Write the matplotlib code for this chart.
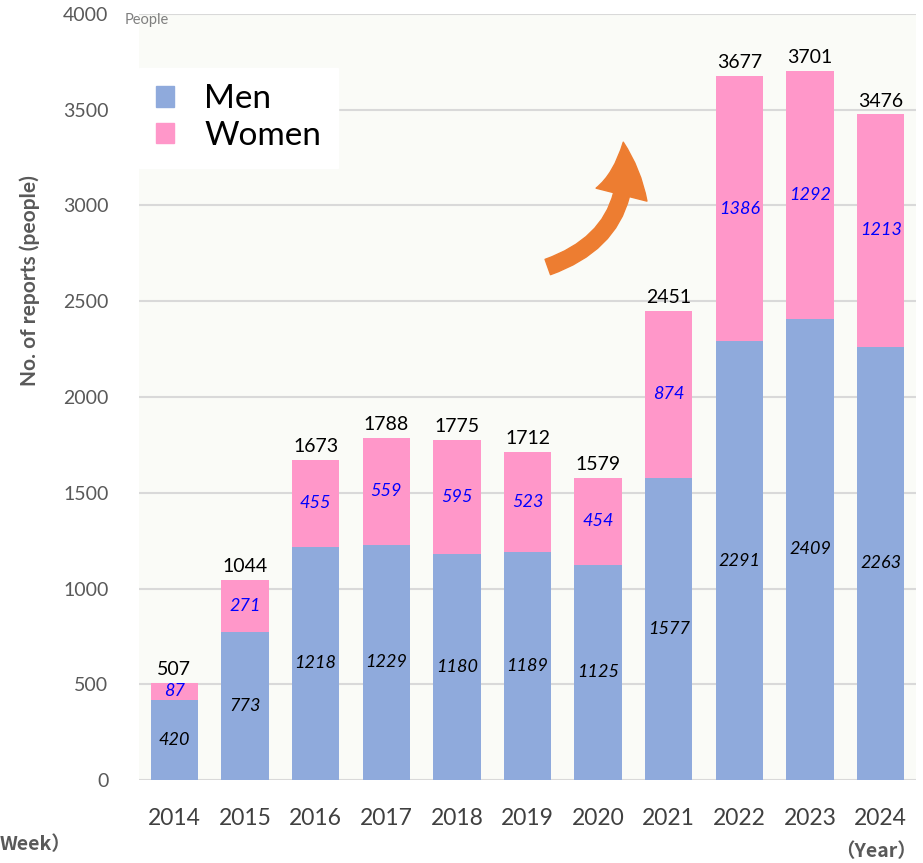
import matplotlib.pyplot as plt
import matplotlib.patches as mpatches
from matplotlib.patches import FancyArrowPatch
import numpy as np

# data
years = ['2014', '2015', '2016', '2017', '2018', '2019', '2020', '2021', '2022', '2023', '2024']
men = [420, 773, 1218, 1229, 1180, 1189, 1125, 1577, 2291, 2409, 2263]
women = [87, 271, 455, 559, 595, 523, 454, 874, 1386, 1292, 1213]
totals = [507, 1044, 1673, 1788, 1775, 1712, 1579, 2451, 3677, 3701, 3476]

men_color = '#8FAADC'
women_color = '#FF97C9'
gray = '#595959'

plt.rcParams['font.family'] = ['Lato', 'DejaVu Sans']

W, H = 923, 863
fig = plt.figure(figsize=(W / 100, H / 100), dpi=100, facecolor='white')
ax = fig.add_axes([139 / W, (H - 780) / H, (916 - 139) / W, 766 / H])
ax.set_facecolor('#FAFBF7')

x = np.arange(len(years))
ax.bar(x, men, width=0.67, color=men_color, zorder=2)
ax.bar(x, women, width=0.67, bottom=men, color=women_color, zorder=2)

# segment labels
for i in range(len(years)):
    ax.text(x[i], men[i] / 2, str(men[i]), ha='center', va='center',
            fontsize=13, style='italic', color='black', zorder=3)
    ax.text(x[i], men[i] + women[i] / 2, str(women[i]), ha='center', va='center',
            fontsize=13, style='italic', color='#0000FF', zorder=3)
    ax.text(x[i], totals[i] + 25, str(totals[i]), ha='center', va='bottom',
            fontsize=14, color='black', zorder=3)

ax.set_xlim(-0.5, 10.5)
ax.set_ylim(0, 4000)
ax.set_yticks(np.arange(0, 4001, 500))
ax.set_xticks(x)
ax.set_xticklabels(years, fontsize=16.5, color='#404040')
ax.tick_params(axis='y', labelsize=14, labelcolor=gray, length=0, pad=22)
ax.tick_params(axis='x', length=0, pad=20)
ax.grid(axis='y', color='#D9D9D9', linewidth=1.5, zorder=0)
for s in ax.spines.values():
    s.set_visible(False)

ax.set_ylabel('No. of reports (people)', fontsize=15, fontweight='bold', color=gray)
ax.yaxis.set_label_coords(-0.128, 0.652)

# legend
men_patch = mpatches.Patch(color=men_color, label='Men')
women_patch = mpatches.Patch(color=women_color, label='Women')
leg = ax.legend(handles=[men_patch, women_patch], loc='upper left',
                bbox_to_anchor=(0.0, 0.93), fontsize=24, frameon=True,
                fancybox=False, edgecolor='white', facecolor='white', framealpha=1,
                handlelength=0.55, handleheight=0.55, handletextpad=0.9,
                labelspacing=0.2, borderpad=0.5, borderaxespad=0.0)
leg.set_zorder(5)

# curved growth arrow
arrow = FancyArrowPatch((5.25, 2674), (6.35, 3345),
                        connectionstyle='arc3,rad=0.42',
                        arrowstyle='simple,head_length=2.1,tail_width=0.65,head_width=2.1',
                        mutation_scale=18, color='#ED7D31', zorder=4)
ax.add_patch(arrow)

fig.text(125 / W, 1 - 20 / H, 'People', fontsize=10.5, color='#7F7F7F', va='center')
fig.text(917 / W, 1 - 852 / H, '（Year）', fontsize=14, color=gray, ha='right', va='center',
         fontweight='bold', family=['Noto Sans CJK JP', 'DejaVu Sans'])
fig.text(0 / W, 1 - 845 / H, 'Week）', fontsize=14, color=gray, ha='left', va='center',
         fontweight='bold', family=['Noto Sans CJK JP', 'DejaVu Sans'])

fig.savefig('out.png', dpi=100)
